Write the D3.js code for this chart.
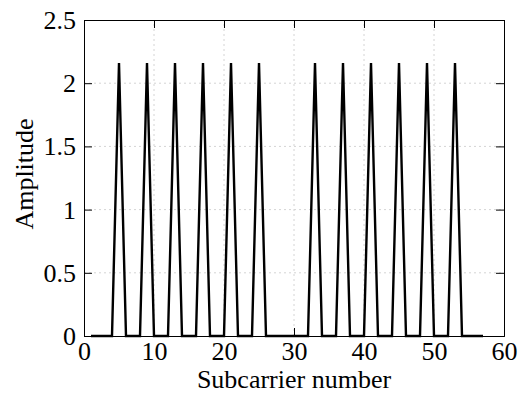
<!DOCTYPE html>
<html><head><meta charset="utf-8">
<script src="https://cdn.jsdelivr.net/npm/d3@7"></script>
<style>body{margin:0;background:#fff}svg{display:block}</style>
</head><body>
<script>
const subcarriers = [1,2,3,4,5,6,7,8,9,10,11,12,13,14,15,16,17,18,19,20,21,22,23,24,25,26,27,28,29,30,31,32,33,34,35,36,37,38,39,40,41,42,43,44,45,46,47,48,49,50,51,52,53,54,55,56,57];
const amplitude = [0,0,0,0,2.16,0,0,0,2.16,0,0,0,2.16,0,0,0,2.16,0,0,0,2.16,0,0,0,2.16,0,0,0,0,0,0,0,2.16,0,0,0,2.16,0,0,0,2.16,0,0,0,2.16,0,0,0,2.16,0,0,0,2.16,0,0,0,0];
const xTicks = [0,10,20,30,40,50,60];
const yTicks = [0,0.5,1,1.5,2,2.5];

const W=523,H=402;
const m={l:84,r:19,t:20,b:66};
const svg=d3.select("body").append("svg").attr("width",W).attr("height",H);
const x=d3.scaleLinear().domain([0,60]).range([m.l,W-m.r]);
const y=d3.scaleLinear().domain([0,2.5]).range([H-m.b,m.t]);
const font="'Liberation Serif','Times New Roman',serif";
const fs=26;

// grid
const g=svg.append("g");
g.selectAll(".gx").data(xTicks.slice(1,-1)).enter().append("line")
 .attr("x1",d=>x(d)).attr("x2",d=>x(d)).attr("y1",y(0)).attr("y2",y(2.5))
 .attr("stroke","#d4d4d4").attr("stroke-width",1).attr("stroke-dasharray","2,3");
g.selectAll(".gy").data(yTicks.slice(1,-1)).enter().append("line")
 .attr("y1",d=>y(d)).attr("y2",d=>y(d)).attr("x1",x(0)).attr("x2",x(60))
 .attr("stroke","#d4d4d4").attr("stroke-width",1).attr("stroke-dasharray","2,3");

// axes
const tl=8;
const ax=svg.append("g").attr("transform",`translate(0,${y(0)})`)
 .call(d3.axisBottom(x).tickValues(xTicks).tickSize(-tl).tickPadding(6).tickFormat(d3.format("d")));
const axT=svg.append("g").attr("transform",`translate(0,${y(2.5)})`)
 .call(d3.axisTop(x).tickValues(xTicks).tickSize(-tl).tickFormat(""));
const ay=svg.append("g").attr("transform",`translate(${x(0)},0)`)
 .call(d3.axisLeft(y).tickValues(yTicks).tickSize(-tl).tickPadding(8).tickFormat(d=>String(d)));
const ayR=svg.append("g").attr("transform",`translate(${x(60)},0)`)
 .call(d3.axisRight(y).tickValues(yTicks).tickSize(-tl).tickFormat(""));
[ax,axT,ay,ayR].forEach(a=>{
  a.attr("font-family",font).attr("font-size",fs);
  a.select(".domain").attr("stroke","#000").attr("stroke-width",1);
  a.selectAll(".tick line").attr("stroke","#000").attr("stroke-width",1);
  a.selectAll("text").attr("font-family",font).attr("font-size",fs).attr("fill","#000");
});
ay.selectAll("text").attr("dy","0.33em");
ax.selectAll("text").attr("dy","0.71em");

// line
const data=subcarriers.map((s,i)=>({s,a:amplitude[i]}));
svg.append("path").datum(data)
 .attr("d",d3.line().x(d=>x(d.s)).y(d=>y(d.a)))
 .attr("fill","none").attr("stroke","#000").attr("stroke-width",2.4).attr("stroke-linejoin","miter");

// labels
svg.append("text").attr("x",(x(0)+x(60))/2).attr("y",388).attr("text-anchor","middle")
 .attr("font-family",font).attr("font-size",fs).text("Subcarrier number");
svg.append("text").attr("transform",`translate(33,${(y(0)+y(2.5))/2-4}) rotate(-90)`).attr("text-anchor","middle")
 .attr("font-family",font).attr("font-size",fs).text("Amplitude");
</script>
</body></html>
